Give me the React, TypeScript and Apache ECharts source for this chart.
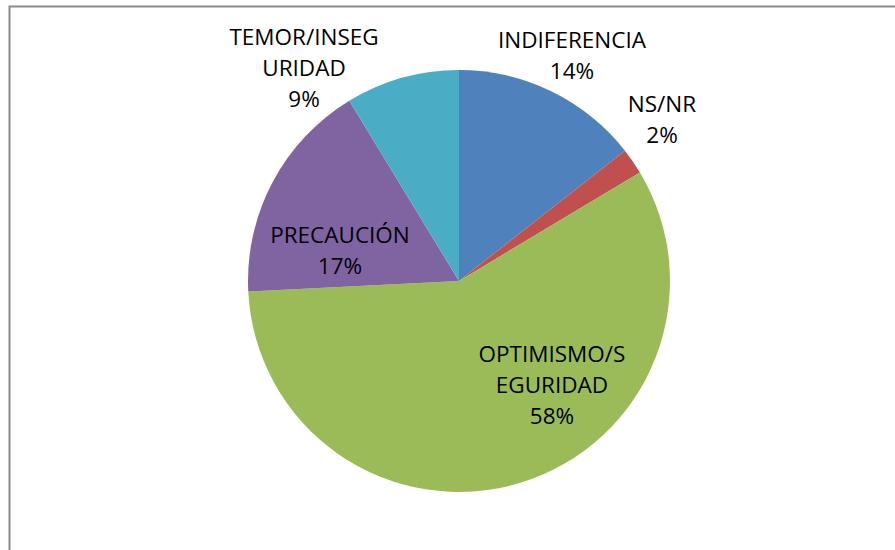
import React, { useEffect, useRef } from "react";
import * as echarts from "echarts";

const categories = ["INDIFERENCIA", "NS/NR", "OPTIMISMO/SEGURIDAD", "PRECAUCIÓN", "TEMOR/INSEGURIDAD"];
const labelNames = ["INDIFERENCIA", "NS/NR", "OPTIMISMO/S\nEGURIDAD", "PRECAUCIÓN", "TEMOR/INSEG\nURIDAD"];
const values = [14.4, 2.0, 57.8, 17.1, 8.7];
const colors = ["#4F81BD", "#C0504D", "#9BBB59", "#8064A2", "#4BACC6"];
// label block centres (layout)
const labelPos: [number, number][] = [
  [572, 55],
  [662, 119],
  [552, 384],
  [340, 250],
  [304, 67],
];

export default function App() {
  const ref = useRef<HTMLDivElement>(null);
  useEffect(() => {
    if (!ref.current) return;
    const chart = echarts.init(ref.current, null, { renderer: "svg" });
    chart.setOption({
      animation: false,
      backgroundColor: "#ffffff",
      graphic: [
        {
          type: "rect",
          shape: { x: 9.5, y: 6.5, width: 920, height: 600 },
          style: { fill: "none", stroke: "#8a8a8a", lineWidth: 2 },
          silent: true,
        },
      ],
      series: [
        {
          type: "pie",
          center: [459, 281],
          radius: 211,
          startAngle: 90,
          clockwise: true,
          avoidLabelOverlap: false,
          itemStyle: { borderWidth: 0 },
          data: categories.map((c, i) => ({
            name: c,
            value: values[i],
            itemStyle: { color: colors[i] },
          })),
          label: {
            show: true,
            position: "inside",
            formatter: (p: any) => `${labelNames[p.dataIndex]}\n${Math.round(p.percent)}%`,
            fontFamily: "Open Sans",
            fontSize: 22.5,
            lineHeight: 31,
            color: "#000000",
            align: "center",
          },
          labelLine: { show: false },
          labelLayout: (p: any) => ({
            x: labelPos[p.dataIndex][0],
            y: labelPos[p.dataIndex][1],
            align: "center",
            verticalAlign: "middle",
          }),
          emphasis: { disabled: true },
        },
      ],
    });
    return () => chart.dispose();
  }, []);
  return (
    <div
      ref={ref}
      style={{ position: "fixed", left: 0, top: 0, width: 895, height: 550, background: "#fff" }}
    />
  );
}
